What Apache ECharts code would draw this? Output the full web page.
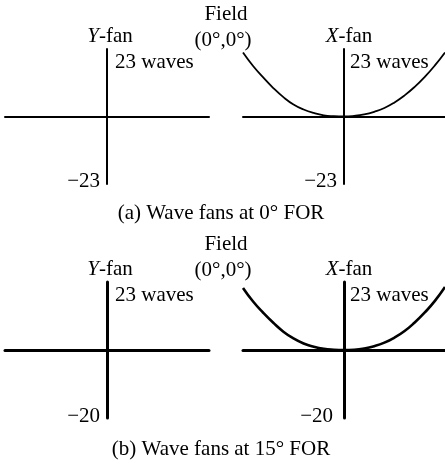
<!DOCTYPE html>
<html>
<head>
<meta charset="utf-8">
<script src="https://cdn.jsdelivr.net/npm/echarts@6/dist/echarts.min.js"></script>
<style>
  html, body { margin: 0; padding: 0; background: #fff; }
  #chart { width: 445px; height: 465px; }
</style>
</head>
<body>
<div id="chart"></div>
<script>
// Field position along the X-fan (arbitrary units, vertex at 0)
const fieldX = [-10, -9, -8, -7, -6, -5, -4, -3, -2, -1, 0, 1, 2, 3, 4, 5, 6, 7, 8, 9, 10];
// Wave count across the X-fan, 0° FOR
const xFanWavesA = [21.8, 17.2, 13.3, 9.7, 6.6, 4.1, 2.4, 1.2, 0.4, 0.1, 0, 0.2, 0.7, 1.6, 2.9, 4.8, 7.2, 10.1, 13.5, 17.4, 21.8];
// Wave count across the X-fan, 15° FOR
const xFanWavesB = [21.0, 16.4, 12.6, 9.2, 6.2, 3.9, 2.2, 1.1, 0.4, 0.1, 0, 0.1, 0.5, 1.3, 2.5, 4.2, 6.4, 9.3, 12.7, 16.6, 21.3];

const waveLimit = 23;
const fanNames = ['Y', 'X'];
const topLabels = ['23 waves', '23 waves'];
const bottomLabels = ['\u221223', '\u221220'];
const fieldLabels = ['Field', '(0\u00b0,0\u00b0)'];
const panelCaptions = ['(a) Wave fans at 0\u00b0 FOR', '(b) Wave fans at 15\u00b0 FOR'];

const FONT = '"Liberation Serif", "Times New Roman", serif';
const FS = 21;

const chart = echarts.init(document.getElementById('chart'), null, { renderer: 'canvas' });

const grids = [
  { left: 5, top: 49, width: 204, height: 135 },
  { left: 243, top: 49, width: 202, height: 135 },
  { left: 5, top: 282, width: 204, height: 136 },
  { left: 243, top: 282, width: 202, height: 136 }
];
const axisWidths = [2, 2, 3, 3];

const xAxes = grids.map((g, i) => ({
  type: 'value', gridIndex: i, min: fieldX[0], max: fieldX[fieldX.length - 1],
  axisLine: { show: true, onZero: true, lineStyle: { color: '#000', width: axisWidths[i] } },
  axisTick: { show: false }, axisLabel: { show: false }, splitLine: { show: false }
}));
const yAxes = grids.map((g, i) => ({
  type: 'value', gridIndex: i, min: -waveLimit, max: waveLimit,
  axisLine: { show: true, onZero: true, lineStyle: { color: '#000', width: axisWidths[i] } },
  axisTick: { show: false }, axisLabel: { show: false }, splitLine: { show: false }
}));

function curve(gridIdx, values, width) {
  return {
    type: 'line', xAxisIndex: gridIdx, yAxisIndex: gridIdx,
    data: fieldX.map((x, k) => [x, values[k]]),
    smooth: true, showSymbol: false, silent: true, clip: false,
    lineStyle: { color: '#000', width: width }
  };
}

function txt(text, x, y, align, rich) {
  const style = {
    text: text, x: x, y: y, fill: '#000', font: FS + 'px ' + FONT,
    align: align || 'center', verticalAlign: 'middle'
  };
  if (rich) style.rich = rich;
  return { type: 'text', style: style, silent: true };
}
const fanRich = {
  i: { fontStyle: 'italic', fontFamily: FONT, fontSize: FS, fill: '#000' },
  n: { fontFamily: FONT, fontSize: FS, fill: '#000' }
};
function fanText(k, x, y) {
  return txt('{i|' + fanNames[k] + '}{n|-fan}', x, y, 'center', fanRich);
}

const panelShift = [0, 233];
const bottomRight = [[100, 337], [100, 333]];
const graphics = [];
[0, 1].forEach(p => {
  const d = panelShift[p];
  graphics.push(txt(fieldLabels[0], 226, 14 + d - (p ? 3 : 0)));
  graphics.push(txt(fieldLabels[1], 223, 40 + d - (p ? 3 : 0)));
  graphics.push(fanText(0, 110, 36 + d));
  graphics.push(fanText(1, 349, 36 + d));
  graphics.push(txt(topLabels[0], 115, 62 + d, 'left'));
  graphics.push(txt(topLabels[1], 350, 62 + d, 'left'));
  graphics.push(txt(bottomLabels[p], bottomRight[p][0], 181 + d + (p ? 2 : 0), 'right'));
  graphics.push(txt(bottomLabels[p], bottomRight[p][1], 181 + d + (p ? 2 : 0), 'right'));
  graphics.push(txt(panelCaptions[p], 221, 213 + d + (p ? 3 : 0)));
});

chart.setOption({
  animation: false,
  backgroundColor: '#fff',
  grid: grids,
  xAxis: xAxes,
  yAxis: yAxes,
  series: [
    curve(1, xFanWavesA, 1.8),
    curve(3, xFanWavesB, 2.6)
  ],
  graphic: graphics
});
</script>
</body>
</html>
